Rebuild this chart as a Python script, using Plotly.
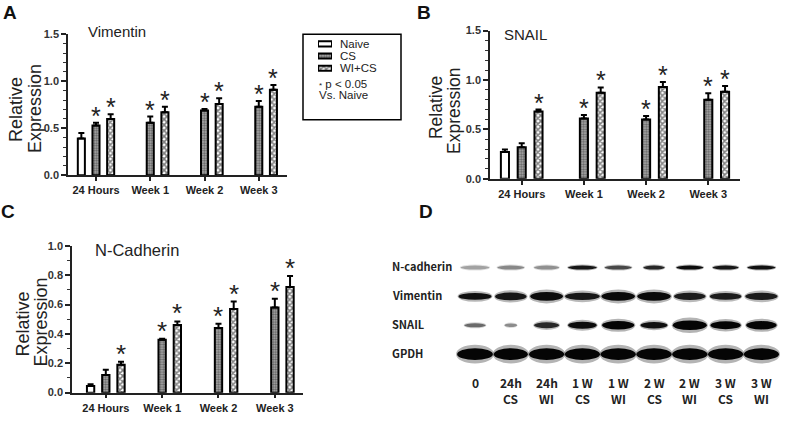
import plotly.graph_objects as go

W, H = 800, 431

# ---------------- data ----------------
categories = ["24 Hours", "Week 1", "Week 2", "Week 3"]
series_names = ["Naive", "CS", "WI+CS"]

vim_naive = [0.39, None, None, None]
vim_naive_err = [0.06, None, None, None]
vim_cs = [0.53, 0.56, 0.69, 0.73]
vim_cs_err = [0.03, 0.065, 0.015, 0.06]
vim_wi = [0.60, 0.67, 0.76, 0.91]
vim_wi_err = [0.05, 0.06, 0.06, 0.05]
vim_cs_sig = [True, True, True, True]
vim_wi_sig = [True, True, True, True]

snail_naive = [0.27, None, None, None]
snail_naive_err = [0.025, None, None, None]
snail_cs = [0.32, 0.61, 0.60, 0.80]
snail_cs_err = [0.04, 0.035, 0.035, 0.065]
snail_wi = [0.68, 0.87, 0.93, 0.88]
snail_wi_err = [0.02, 0.055, 0.05, 0.06]
snail_cs_sig = [False, True, True, True]
snail_wi_sig = [True, True, True, True]

ncad_naive = [0.045, None, None, None]
ncad_naive_err = [0.012, None, None, None]
ncad_cs = [0.12, 0.36, 0.44, 0.58]
ncad_cs_err = [0.035, 0.007, 0.03, 0.06]
ncad_wi = [0.19, 0.46, 0.57, 0.72]
ncad_wi_err = [0.02, 0.025, 0.05, 0.075]
ncad_cs_sig = [False, True, True, True]
ncad_wi_sig = [True, True, True, True]

# western blot (panel D)
blot_rows = ["N-cadherin", "Vimentin", "SNAIL", "GPDH"]
blot_lane_top = ["0", "24h", "24h", "1 W", "1 W", "2 W", "2 W", "3 W", "3 W"]
blot_lane_bottom = ["", "CS", "WI", "CS", "WI", "CS", "WI", "CS", "WI"]
ncad_band = [0.30, 0.42, 0.38, 0.92, 0.70, 0.85, 0.97, 0.92, 0.95]
vim_band = [0.95, 0.92, 0.97, 0.92, 0.98, 0.98, 0.90, 0.90, 0.90]
snail_band = [0.55, 0.40, 0.85, 0.97, 1.00, 0.95, 1.00, 1.00, 1.00]
gpdh_band = [1.00, 1.00, 1.00, 1.00, 1.00, 1.00, 1.00, 1.00, 1.00]
blot_intensity = [ncad_band, vim_band, snail_band, gpdh_band]

# band sizes (style): widths in lane units, heights in px
ncad_w = [0.80, 0.75, 0.70, 0.80, 0.75, 0.60, 0.75, 0.72, 0.78]
vim_w = [0.92, 0.88, 0.92, 0.97, 0.94, 0.94, 0.88, 0.88, 0.90]
snail_w = [0.60, 0.35, 0.70, 0.80, 0.90, 0.75, 0.95, 0.85, 0.85]
snail_h = [4.0, 3.5, 6.0, 7.0, 8.5, 6.5, 10.0, 8.0, 8.5]
vim_h = [7.0, 8.0, 9.0, 7.5, 9.0, 9.0, 7.5, 7.0, 7.5]
gpdh_w = [1.0, 0.95, 0.98, 0.98, 0.98, 0.98, 0.98, 0.98, 0.98]
band_w = [ncad_w, vim_w, snail_w, gpdh_w]
band_h = [[4.0] * 9, vim_h, snail_h, [12.0] * 9]

TXT = "#222222"
FONT = "Liberation Sans"
CJK = "Noto Sans CJK KR"

def px(x):
    return x / W

def py(y):
    return 1 - y / H

fig = go.Figure()

OFF = 0.27
BW = 0.13

def pattern(kind):
    if kind == 0:
        return dict(color="white", line=dict(color="black", width=2))
    if kind == 1:
        return dict(color="#888888", line=dict(color="black", width=2),
                    pattern=dict(shape=".", fgcolor="#111", bgcolor="#b0b0b0", size=2.5, solidity=0.5))
    return dict(color="white", line=dict(color="black", width=2),
                pattern=dict(shape="x", fgcolor="black", bgcolor="white", size=4, solidity=0.62))

annotations = []

def add_panel(xa, ya, naive, naive_err, cs, cs_err, wi, wi_err, cs_sig, wi_sig, star_size):
    groups = [(naive, naive_err, -OFF, 0, [False] * 4),
              (cs, cs_err, 0.0, 1, cs_sig),
              (wi, wi_err, OFF, 2, wi_sig)]
    for vals, errs, off, kind, sig in groups:
        xs, ys, es = [], [], []
        for i, v in enumerate(vals):
            if v is None:
                continue
            xs.append(i + off)
            ys.append(v)
            es.append(errs[i])
            if sig[i]:
                annotations.append(dict(
                    x=i + off, y=v + errs[i], xref=xa, yref=ya, text="*",
                    showarrow=False, yanchor="bottom", yshift=-9,
                    font=dict(family=FONT, size=star_size, color=TXT)))
        fig.add_trace(go.Bar(
            x=xs, y=ys, width=BW, xaxis=xa, yaxis=ya, marker=pattern(kind),
            showlegend=False, name=series_names[kind],
            error_y=dict(type="data", array=es, arrayminus=[0] * len(es), symmetric=False,
                         color="black", thickness=2, width=3)))

add_panel("x", "y", vim_naive, vim_naive_err, vim_cs, vim_cs_err, vim_wi, vim_wi_err,
          vim_cs_sig, vim_wi_sig, 25)
add_panel("x2", "y2", snail_naive, snail_naive_err, snail_cs, snail_cs_err, snail_wi,
          snail_wi_err, snail_cs_sig, snail_wi_sig, 25)
add_panel("x3", "y3", ncad_naive, ncad_naive_err, ncad_cs, ncad_cs_err, ncad_wi, ncad_wi_err,
          ncad_cs_sig, ncad_wi_sig, 26)

# legend swatches
for k in range(3):
    fig.add_trace(go.Bar(orientation="h", y=[k], x=[1], base=[0], width=0.42,
                         xaxis="x4", yaxis="y4", marker=pattern(k), showlegend=False,
                         name=series_names[k]))

def xaxis(dom, rng, tfs):
    return dict(domain=dom, range=rng, tickvals=list(range(len(categories))), ticktext=categories,
                ticks="outside", ticklen=4, tickwidth=1.5, tickcolor="#222",
                showline=True, linecolor="#222", linewidth=1.5, showgrid=False, zeroline=False,
                tickfont=dict(family=FONT, size=tfs, color=TXT, weight="bold"), fixedrange=True)

def yaxis(dom, rng, tv, tfs):
    return dict(domain=dom, range=rng, tickvals=tv, tickformat=".1f",
                ticks="outside", ticklen=5, tickwidth=1.5, tickcolor="#222",
                minor=dict(dtick=0.1, ticks="outside", ticklen=3, tickwidth=1, tickcolor="#333", showgrid=False),
                showline=True, linecolor="#222", linewidth=1.5, showgrid=False, zeroline=False,
                tickfont=dict(family=FONT, size=tfs, color="#333", weight="bold"), fixedrange=True)

layout = dict(
    width=W, height=H, margin=dict(l=0, r=0, t=0, b=0),
    paper_bgcolor="white", plot_bgcolor="white", barmode="overlay", showlegend=False,
    xaxis=dict(xaxis([px(68), px(287)], [-0.516, 3.52], 11), anchor="y"),
    yaxis=dict(yaxis([py(174), py(29.3)], [0, 1.5], [0, 0.5, 1.0, 1.5], 11), anchor="x"),
    xaxis2=dict(xaxis([px(490), px(740)], [-0.51, 3.51], 11), anchor="y2"),
    yaxis2=dict(yaxis([py(177.7), py(25.3)], [0, 1.5], [0, 0.5, 1.0, 1.5], 11), anchor="x2"),
    xaxis3=dict(xaxis([px(72), px(303)], [-0.6, 3.5], 11), anchor="y3"),
    yaxis3=dict(yaxis([py(397.7), py(246.7)], [0, 1.0], [0, 0.2, 0.4, 0.6, 0.8, 1.0], 11), anchor="x3"),
    xaxis4=dict(domain=[px(318), px(332)], range=[0, 1], visible=False, anchor="y4", fixedrange=True),
    yaxis4=dict(domain=[py(70), py(33)], range=[2.48, -0.48], visible=False, anchor="x4", fixedrange=True),
    xaxis5=dict(domain=[0.5, 1.0], range=[-2.095, 9.078], visible=False, anchor="y5", fixedrange=True),
    yaxis5=dict(domain=[py(420), py(240)], range=[5.084, -0.976], visible=False, anchor="x5", fixedrange=True),
)

# blot bands
shapes = []
row_px = 29.7
for r, row in enumerate(blot_intensity):
    for l, inten in enumerate(row):
        g = int(round(230 - 225 * inten))
        col = f"rgb({g},{g},{g})"
        w = band_w[r][l]
        h = band_h[r][l] / row_px
        shapes.append(dict(type="circle", xref="x5", yref="y5", x0=l - w / 2 * 1.06, x1=l + w / 2 * 1.06,
                           y0=r - h * 0.8, y1=r + h * 0.8, fillcolor=col, opacity=0.3,
                           line=dict(width=0)))
        shapes.append(dict(type="circle", xref="x5", yref="y5", x0=l - w / 2, x1=l + w / 2,
                           y0=r - h / 2, y1=r + h / 2, fillcolor=col, line=dict(width=0)))

# legend box
shapes.append(dict(type="rect", xref="paper", yref="paper", x0=px(303), x1=px(401),
                   y0=py(117), y1=py(29), line=dict(color="black", width=1.5), fillcolor="rgba(0,0,0,0)"))
layout["shapes"] = shapes

for k, name in enumerate(series_names):
    annotations.append(dict(x=px(338), y=k, xref="paper", yref="y4", text=name, showarrow=False,
                            xanchor="left", yanchor="middle",
                            font=dict(family=FONT, size=11.5, color=TXT)))
annotations.append(dict(x=px(317), y=py(80), xref="paper", yref="paper",
                        text="<span style='font-size:8px'>*</span> p < 0.05", showarrow=False,
                        xanchor="left", yanchor="middle", font=dict(family=FONT, size=11.5, color=TXT)))
annotations.append(dict(x=px(317), y=py(92), xref="paper", yref="paper", text="Vs. Naive",
                        showarrow=False, xanchor="left", yanchor="middle",
                        font=dict(family=FONT, size=11.5, color=TXT)))

# panel titles
for txt, x, y, s in [("Vimentin", 86, 26, 15), ("SNAIL", 502, 29, 15), ("N-Cadherin", 93, 251, 16.5)]:
    annotations.append(dict(x=px(x), y=py(y), xref="paper", yref="paper", text=txt, showarrow=False,
                            xanchor="left", yanchor="middle", font=dict(family=FONT, size=s, color=TXT)))

# y-axis titles
for txt, x, y, s in [("Relative", 16, 107, 18), ("Expression", 35, 106, 18),
                     ("Relative", 436, 105, 17.5), ("Expression", 454, 108, 17.5),
                     ("Relative", 22.5, 327, 18), ("Expression", 40.5, 325, 18)]:
    annotations.append(dict(x=px(x), y=py(y), xref="paper", yref="paper", text=txt, showarrow=False,
                            textangle=-90, xanchor="center", yanchor="middle",
                            font=dict(family=FONT, size=s, color=TXT)))

# panel letters
for txt, x, y in [("A", 10, 7), ("B", 424, 7), ("C", 8, 211), ("D", 426, 211)]:
    annotations.append(dict(x=px(x), y=py(y), xref="paper", yref="paper", text=txt, showarrow=False,
                            xanchor="center", yanchor="middle",
                            font=dict(family=FONT, size=19, color="#111", weight="bold")))

# blot labels
for r, name in enumerate(blot_rows):
    annotations.append(dict(x=px(390), y=r - 0.05, xref="paper", yref="y5", text=name, showarrow=False,
                            xanchor="left", yanchor="middle",
                            font=dict(family=CJK, size=11, color=TXT, weight="bold")))
for l, (t, b) in enumerate(zip(blot_lane_top, blot_lane_bottom)):
    annotations.append(dict(x=l, y=py(387), xref="x5", yref="paper", text=t, showarrow=False,
                            xanchor="center", yanchor="middle",
                            font=dict(family=CJK, size=12, color=TXT, weight="bold")))
    if b:
        annotations.append(dict(x=l, y=py(404), xref="x5", yref="paper", text=b, showarrow=False,
                                xanchor="center", yanchor="middle",
                                font=dict(family=CJK, size=12, color=TXT, weight="bold")))

layout["annotations"] = annotations
fig.update_layout(**layout)
fig.write_html("out.html", config={"displayModeBar": False},
               post_script="document.body.style.margin='0px';document.body.style.overflow='hidden';")
